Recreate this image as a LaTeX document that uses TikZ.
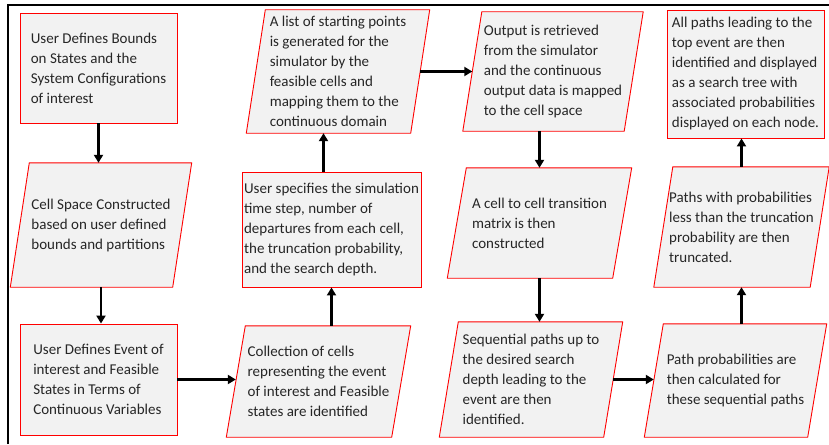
\documentclass[tikz,border=0pt]{standalone}
\usepackage{fontspec}
\setmainfont{Carlito}
\usetikzlibrary{arrows.meta,backgrounds}

\definecolor{boxfill}{HTML}{F2F2F2}
\definecolor{boxred}{HTML}{FF0000}

\tikzset{
	flowtext/.style = {font = \fontsize{15}{20}\selectfont,
					   text = black!85,
					   align = left,
					   inner sep = 2pt},
	rectbox/.style = {flowtext,
					  draw = boxred,
					  fill = boxfill,
					  line width = 0.9pt,
					  shape = rectangle},
	parabox/.style = {flowtext,
					  shape = rectangle},
	paraline/.style = {draw = boxred,
					   fill = boxfill,
					   line width = 0.9pt},
	flow/.style = {->,
				   >={Triangle[width=9pt,length=8pt]},
				   line width = 2.4pt}
}

\begin{document}
\begin{tikzpicture}[x=1pt, y=-1pt]
	\useasboundingbox (0,0) rectangle (829,444);
	\draw[line width = 2.2pt] (8,444) -- (8,5) -- (829,5);

	% first column
	\draw (98.5, 68) node[rectbox,
					  minimum width = 157pt,
					  minimum height = 110pt
			   ](bounds){User Defines Bounds\\on States and the\\System Configurations\\of interest};
	\draw (101, 225) node[parabox,
					  minimum width = 162pt,
					  minimum height = 124pt
			   ](cellspace){Cell Space Constructed\\based on user defined\\bounds and partitions};
	\draw (98.5, 379.5) node[rectbox,
					  minimum width = 157pt,
					  minimum height = 111pt
			   ](event){User Defines Event of\\interest and Feasible\\States in Terms of\\Continuous Variables};

	% second column
	\draw (318.5, 381.5) node[parabox,
					  minimum width = 165pt,
					  minimum height = 111pt
			   ](collect){Collection of cells\\representing the event\\of interest and Feasible\\states are identified};
	\draw (331.5, 229.5) node[rectbox,
					  minimum width = 179pt,
					  minimum height = 115pt
			   ](settings){User specifies the simulation\\time step, number of\\departures from each cell,\\the truncation probability,\\and the search depth.};
	\draw (338, 71.5) node[parabox,
					  minimum width = 164pt,
					  minimum height = 123pt
			   ](starts){A list of starting points\\is generated for the\\simulator by the\\feasible cells and\\mapping them to the\\continuous domain};

	% third column
	\draw (553, 71.5) node[parabox,
					  minimum width = 161pt,
					  minimum height = 119pt
			   ](output){Output is retrieved\\from the simulator\\and the continuous\\output data is mapped\\to the cell space};
	\draw (539.5, 223) node[parabox,
					  minimum width = 165pt,
					  minimum height = 110pt
			   ](matrix){A cell to cell transition\\matrix is then\\constructed};
	\draw (531, 379.5) node[parabox,
					  minimum width = 164pt,
					  minimum height = 115pt
			   ](seqpaths){Sequential paths up to\\the desired search\\depth leading to the\\event are then\\identified.};

	% fourth column
	\draw (735.5, 380.5) node[parabox,
					  minimum width = 163pt,
					  minimum height = 113pt
			   ](pathprob){Path probabilities are\\then calculated for\\these sequential paths};
	\draw (741.5, 227) node[parabox,
					  minimum width = 156pt,
					  minimum height = 120pt
			   ](truncate){Paths with probabilities\\less than the truncation\\probability are then\\truncated.};
	\draw (745.5, 74) node[rectbox,
					  minimum width = 157pt,
					  minimum height = 128pt
			   ](tree){All paths leading to the\\top event are then\\identified and displayed\\as a search tree with\\associated probabilities\\displayed on each node.};

	% slanted boxes
	\begin{scope}[on background layer]
		\foreach \n in {cellspace, collect, starts, output, matrix, seqpaths, pathprob, truncate}
			\draw[paraline] ([xshift=9.5pt]\n.north west) -- ([xshift=9.5pt]\n.north east)
				-- ([xshift=-9.5pt]\n.south east) -- ([xshift=-9.5pt]\n.south west) -- cycle;
	\end{scope}

	\draw[flow] (bounds.south) -- (bounds.south |- cellspace.north);
	\draw[flow] (cellspace.south) -- (cellspace.south |- event.north);
	\draw[flow] (event.east) -- (event.east -| collect.west);

	\draw[flow] (settings.south |- collect.north) -- (settings.south);
	\draw[flow] ([xshift=-8pt]settings.north) -- ([xshift=-8pt]settings.north |- starts.south);
	\draw[flow] (starts.east) -- (starts.east -| output.west);

	\draw[flow] (matrix.north |- output.south) -- (matrix.north);
	\draw[flow] (matrix.south) -- (matrix.south |- seqpaths.north);
	\draw[flow] (seqpaths.east) -- (seqpaths.east -| pathprob.west);

	\draw[flow] (truncate.south |- pathprob.north) -- (truncate.south);
	\draw[flow] (truncate.north) -- (truncate.north |- tree.south);
\end{tikzpicture}
\end{document}
